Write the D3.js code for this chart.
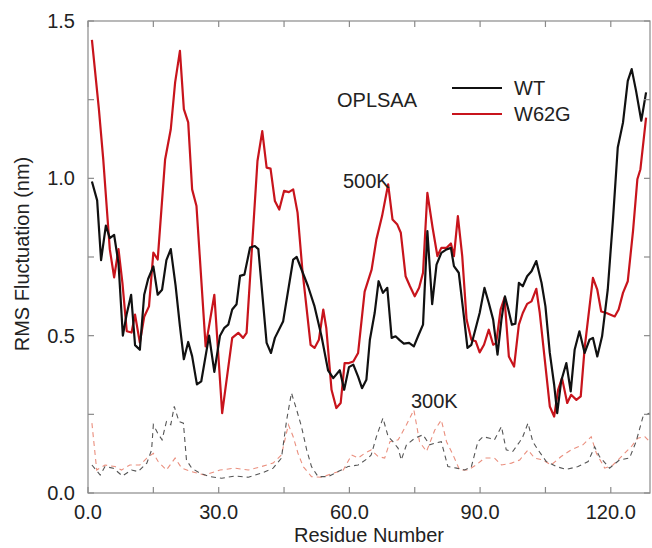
<!DOCTYPE html>
<html>
<head>
<meta charset="utf-8">
<script src="https://cdn.jsdelivr.net/npm/d3@7"></script>
<style>
  html, body { margin: 0; padding: 0; background: #fff; }
  svg { display: block; font-family: "Liberation Sans", Arial, sans-serif; }
</style>
</head>
<body>
<svg id="chart" width="652" height="548"></svg>
<script>
// [residue, RMS fluctuation (nm)]
const wt500 = [
  [0.9,0.99],[2.1,0.93],[3,0.74],[4.1,0.85],[5,0.81],[6,0.82],[7,0.73],[8,0.50],[8.9,0.57],[9.9,0.63],
  [10.8,0.47],[11.9,0.455],[12.9,0.63],[13.8,0.68],[15,0.72],[16,0.63],[17,0.646],[18,0.74],[19,0.775],
  [20.1,0.66],[21.1,0.53],[22,0.425],[23,0.48],[23.9,0.435],[25,0.345],[26,0.355],[27.8,0.50],[29,0.385],
  [30.3,0.50],[31.3,0.525],[32.2,0.535],[33.1,0.583],[34.1,0.60],[34.9,0.69],[35.9,0.694],[37.2,0.78],
  [38.3,0.785],[39.1,0.775],[41,0.477],[42,0.445],[42.9,0.493],[44.8,0.546],[47.1,0.742],[47.9,0.75],
  [50.5,0.657],[52,0.593],[53.6,0.498],[55.1,0.39],[56.3,0.365],[57.8,0.39],[58.8,0.328],[59.9,0.40],
  [60.9,0.408],[62,0.37],[62.9,0.333],[63.9,0.36],[64.7,0.487],[65.8,0.572],[66.7,0.673],[67.7,0.636],
  [68.7,0.652],[69.7,0.493],[70.6,0.498],[71.6,0.485],[72.5,0.475],[73.7,0.477],[74.8,0.466],[75.9,0.503],
  [76.9,0.535],[77.9,0.832],[79,0.60],[80,0.726],[81.1,0.763],[82.3,0.774],[83.3,0.779],[84,0.721],
  [85.1,0.70],[86.1,0.583],[87.1,0.461],[88,0.471],[89.9,0.572],[91,0.652],[92,0.604],[93,0.551],
  [94,0.44],[94.9,0.551],[95.7,0.625],[96.4,0.588],[97.3,0.535],[98.1,0.538],[98.9,0.668],[99.8,0.657],
  [100.8,0.689],[101.8,0.705],[102.9,0.737],[104.1,0.668],[105,0.593],[106,0.445],[107,0.344],[107.7,0.254],
  [108.6,0.355],[109.8,0.413],[110.8,0.323],[111.7,0.455],[112.8,0.514],[114,0.445],[115.1,0.487],
  [115.9,0.493],[116.9,0.434],[118,0.498],[119.3,0.646],[120.5,0.869],[121.6,1.098],[122.8,1.177],
  [123.9,1.31],[124.8,1.347],[125.8,1.278],[127,1.183],[128.1,1.273]
];

const w62g500 = [
  [0.9,1.44],[2.5,1.22],[3.5,1.06],[4.5,0.87],[5,0.775],[6,0.685],[7,0.775],[7.9,0.668],[8.9,0.514],
  [10,0.51],[10.8,0.567],[11.9,0.478],[12.9,0.56],[14,0.593],[15,0.764],[16,0.742],[17.7,1.06],[19,1.156],
  [20,1.305],[21.1,1.405],[22,1.22],[23,1.178],[23.9,0.965],[24.9,0.912],[27,0.466],[29,0.63],[30.8,0.254],
  [33.1,0.493],[34.5,0.509],[35.6,0.493],[36.4,0.509],[38.9,1.055],[40,1.15],[41,1.034],[41.9,1.031],
  [42.9,0.928],[43.9,0.901],[45,0.96],[46.1,0.956],[47.1,0.965],[48.1,0.891],[49.2,0.71],[51.1,0.471],
  [52,0.461],[53,0.487],[54,0.583],[54.7,0.524],[55.9,0.328],[57,0.27],[58,0.286],[58.9,0.413],
  [59.9,0.413],[60.9,0.418],[62,0.445],[63.5,0.64],[65.1,0.71],[66.2,0.806],[67.5,0.88],[68.9,0.981],
  [69.9,0.869],[71,0.853],[71.8,0.827],[72.9,0.689],[73.9,0.657],[75,0.625],[76,0.652],[76.9,0.70],
  [77.9,0.954],[79.1,0.843],[80.2,0.753],[81.1,0.779],[82.3,0.779],[83.3,0.793],[84,0.753],[84.9,0.88],
  [85.9,0.753],[86.9,0.551],[88,0.487],[89,0.482],[89.9,0.447],[90.9,0.471],[92,0.519],[93,0.471],
  [93.7,0.477],[94.7,0.583],[95.6,0.62],[96.6,0.434],[97.8,0.402],[98.9,0.535],[99.8,0.572],[100.8,0.601],
  [101.8,0.609],[102.9,0.649],[103.7,0.572],[106,0.275],[107,0.243],[107.9,0.328],[108.8,0.365],[110,0.286],
  [110.9,0.312],[112.1,0.296],[113.1,0.307],[114,0.461],[115.9,0.684],[116.9,0.646],[117.8,0.577],
  [119,0.572],[120.9,0.561],[121.8,0.583],[122.8,0.636],[123.9,0.673],[125.1,0.832],[126.1,0.997],
  [126.8,1.029],[128.1,1.193]
];

const wt300 = [
  [0.9,0.089],[2.8,0.057],[3.9,0.084],[5.8,0.079],[7.9,0.054],[10,0.073],[11.5,0.068],[13.5,0.095],
  [14.6,0.137],[15,0.217],[16,0.19],[17,0.169],[18,0.227],[19,0.217],[19.8,0.275],[20.9,0.227],[21.9,0.222],
  [22.6,0.105],[23.8,0.079],[25.7,0.063],[28,0.052],[30.7,0.047],[33.7,0.054],[36.8,0.05],[39.8,0.063],
  [42.5,0.079],[44.4,0.111],[45.6,0.232],[46.7,0.318],[47.9,0.264],[49,0.211],[50.2,0.137],[51.3,0.084],
  [52.8,0.052],[55.1,0.052],[57.4,0.068],[59.7,0.084],[62,0.089],[64.3,0.111],[65,0.121],[66.2,0.179],
  [67.7,0.238],[68.9,0.179],[70,0.163],[71.2,0.142],[71.9,0.105],[73.1,0.153],[75,0.174],[76.9,0.185],
  [78.4,0.153],[79.6,0.158],[81.1,0.163],[82.6,0.084],[84.6,0.079],[86.5,0.073],[88,0.084],[89.5,0.163],
  [90.7,0.179],[92.2,0.174],[93.3,0.169],[94.9,0.211],[96,0.137],[97.5,0.132],[99.1,0.163],[99.8,0.179],
  [101,0.222],[102.1,0.163],[103.3,0.137],[105.2,0.1],[107.5,0.084],[109.8,0.075],[112.5,0.084],
  [114.8,0.1],[116.3,0.147],[117.4,0.116],[119.7,0.079],[122,0.105],[124.3,0.111],[125.8,0.163],
  [127.4,0.243],[128.9,0.254]
];

const w62g300 = [
  [0.9,0.222],[2,0.073],[3.9,0.089],[6.2,0.084],[7.7,0.073],[9.6,0.089],[11.9,0.089],[13.5,0.111],
  [15,0.126],[16.1,0.1],[18,0.073],[20,0.111],[21.5,0.079],[23.8,0.068],[26.8,0.057],[30.3,0.073],
  [33.7,0.079],[36.8,0.073],[39.8,0.084],[42.5,0.095],[44.4,0.121],[46,0.217],[47.1,0.179],[48.2,0.126],
  [49.4,0.084],[51.3,0.052],[53.6,0.05],[56.3,0.063],[58.6,0.073],[60.5,0.121],[62,0.111],[63.5,0.126],
  [65,0.137],[66.6,0.116],[68.1,0.111],[69.3,0.163],[71.2,0.169],[73.1,0.217],[74.8,0.264],[76.1,0.163],
  [77.7,0.132],[79.6,0.2],[81.1,0.232],[82.3,0.163],[83.8,0.121],[85.3,0.073],[87.2,0.073],[89.1,0.089],
  [91,0.111],[93.3,0.111],[94.9,0.089],[97.2,0.095],[99.1,0.105],[101,0.137],[102.5,0.111],[104.4,0.105],
  [106.3,0.089],[108.6,0.116],[110.9,0.137],[113.6,0.153],[115.5,0.179],[116.7,0.126],[118.6,0.079],
  [120.5,0.089],[122.8,0.121],[124.7,0.147],[126.2,0.174],[127.8,0.179],[128.9,0.163]
];

const xMajor = [0, 30, 60, 90, 120];
const xMinor = [15, 45, 75, 105];
const yMajor = [0, 0.5, 1.0, 1.5];
const yMinor = [0.25, 0.75, 1.25];

const RED = '#c8141c';
const FRAME = '#8a8a8a';

const svg = d3.select('#chart');
const mLeft = 88, mRight = 650, mTop = 21, mBottom = 493;

const x = d3.scaleLinear().domain([0, 129]).range([mLeft, mRight]);
const y = d3.scaleLinear().domain([0, 1.5]).range([mBottom, mTop]);

const line = d3.line().x(d => x(d[0])).y(d => y(d[1]));

// dashed 300K first, solid 500K on top
svg.append('path').datum(w62g300)
  .attr('d', line).attr('fill', 'none')
  .attr('stroke', '#ea8f7e').attr('stroke-width', 1.1)
  .attr('stroke-dasharray', '5,4');

svg.append('path').datum(wt300)
  .attr('d', line).attr('fill', 'none')
  .attr('stroke', '#555').attr('stroke-width', 1.1)
  .attr('stroke-dasharray', '5,4');

svg.append('path').datum(w62g500)
  .attr('d', line).attr('fill', 'none')
  .attr('stroke', RED).attr('stroke-width', 2.2)
  .attr('stroke-linejoin', 'round');

svg.append('path').datum(wt500)
  .attr('d', line).attr('fill', 'none')
  .attr('stroke', '#111').attr('stroke-width', 2.2)
  .attr('stroke-linejoin', 'round');

// frame
svg.append('rect')
  .attr('x', mLeft).attr('y', mTop)
  .attr('width', mRight - mLeft).attr('height', mBottom - mTop)
  .attr('fill', 'none').attr('stroke', FRAME).attr('stroke-width', 1.2);

// inward ticks on all four sides
const tickLen = 6;
const ticks = svg.append('g').attr('stroke', FRAME).attr('stroke-width', 1.2);
xMajor.concat(xMinor).forEach(v => {
  ticks.append('line').attr('x1', x(v)).attr('x2', x(v)).attr('y1', mBottom).attr('y2', mBottom - tickLen);
  ticks.append('line').attr('x1', x(v)).attr('x2', x(v)).attr('y1', mTop).attr('y2', mTop + tickLen);
});
yMajor.concat(yMinor).forEach(v => {
  ticks.append('line').attr('y1', y(v)).attr('y2', y(v)).attr('x1', mLeft).attr('x2', mLeft + tickLen);
  ticks.append('line').attr('y1', y(v)).attr('y2', y(v)).attr('x1', mRight).attr('x2', mRight - tickLen);
});

// tick labels
svg.append('g').selectAll('text').data(xMajor).enter().append('text')
  .attr('x', d => x(d)).attr('y', mBottom + 26)
  .attr('text-anchor', 'middle').attr('font-size', 20).attr('fill', '#222')
  .text(d => d.toFixed(1));

svg.append('g').selectAll('text').data(yMajor).enter().append('text')
  .attr('x', mLeft - 13).attr('y', d => y(d) + 7)
  .attr('text-anchor', 'end').attr('font-size', 20).attr('fill', '#222')
  .text(d => d.toFixed(1));

// axis titles
svg.append('text')
  .attr('x', (mLeft + mRight) / 2).attr('y', 542)
  .attr('text-anchor', 'middle').attr('font-size', 20).attr('fill', '#222')
  .text('Residue Number');

svg.append('text')
  .attr('transform', 'translate(29, 254) rotate(-90)')
  .attr('text-anchor', 'middle').attr('font-size', 20).attr('fill', '#222')
  .text('RMS Fluctuation (nm)');

// annotations + legend
const label = (t, tx, ty, anchor) => svg.append('text')
  .attr('x', tx).attr('y', ty).attr('font-size', 20).attr('fill', '#222')
  .attr('text-anchor', anchor || 'start').text(t);

label('OPLSAA', 337, 107);
label('500K', 343, 188);
label('300K', 411, 408);

svg.append('line').attr('x1', 452).attr('x2', 502).attr('y1', 88).attr('y2', 88)
  .attr('stroke', '#111').attr('stroke-width', 2.2);
svg.append('line').attr('x1', 452).attr('x2', 502).attr('y1', 114).attr('y2', 114)
  .attr('stroke', RED).attr('stroke-width', 2.2);
label('WT', 514, 95);
label('W62G', 514, 121);
</script>
</body>
</html>
